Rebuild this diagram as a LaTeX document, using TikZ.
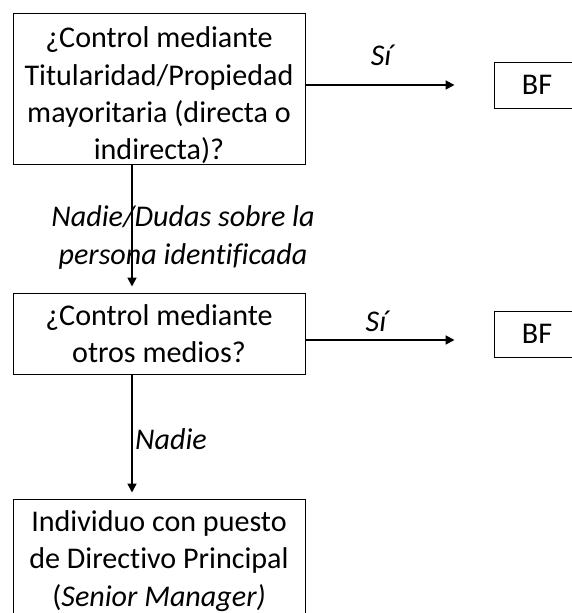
\documentclass[tikz,border=0pt]{standalone}
\usepackage{fontspec}
\setmainfont{Carlito}[Ligatures={NoCommon}]
\usetikzlibrary{arrows.meta}
\begin{document}
\begin{tikzpicture}[
    font=\fontsize{21.4}{26.5}\selectfont,
    caja/.style={draw, line width=0.7pt, align=center, minimum width=7.3cm},
    bfcaja/.style={draw, line width=0.7pt, minimum width=2.15cm, minimum height=1.15cm},
    flecha/.style={-{Triangle[length=0.22cm,width=0.22cm]}, line width=1.3pt},
    etiq/.style={font=\fontsize{21.4}{26.5}\selectfont\itshape, align=center}
  ]
  \useasboundingbox (0,0) rectangle (14.275,15.325);

  % Preguntas
  \node[caja, minimum height=3.775cm] (q1) at (3.975,13.1125) {};
  \node[align=center] (q1txt) at ([yshift=-0.17cm]q1.center) {¿Control mediante\\Titularidad/Propiedad\\mayoritaria (directa o\\indirecta)?};
  \node[caja, minimum height=2.025cm] (q2) at (3.975,6.9875) {¿Control mediante\\otros medios?};
  \node[caja, minimum height=3.1cm] (sm) at (3.975,1.3) {Individuo con puesto\\de Directivo Principal\\(\textit{Senior Manager)}};

  % Resultados
  \node[bfcaja] (bf1) at (13.425,13.2) {BF};
  \node[bfcaja] (bf2) at (13.425,6.975) {BF};

  % Flechas
  \draw[flecha, shorten >=0.975cm] (q1.east |- bf1) -- (bf1.west);
  \draw[flecha, shorten >=0.975cm] ([yshift=-0.15cm]q2.east |- bf2) -- ([yshift=-0.15cm]bf2.west);
  \draw[flecha, shorten >=0.15cm] ([xshift=-0.675cm]q1.south) -- ([xshift=-0.675cm]q2.north);
  \draw[flecha, shorten >=0.15cm] ([xshift=-0.675cm]q2.south) -- ([xshift=-0.675cm]sm.north);

  % Etiquetas
  \node[etiq] (si1) at (9.525,13.95) {Sí};
  \node[etiq] (si2) at (9.4,7.3) {Sí};
  \node[etiq] (nadie1) at (4.575,9.3875) {Nadie/Dudas sobre la\\persona identificada};
  \node[etiq] (nadie2) at (4.275,4.35) {Nadie};
\end{tikzpicture}
\end{document}
